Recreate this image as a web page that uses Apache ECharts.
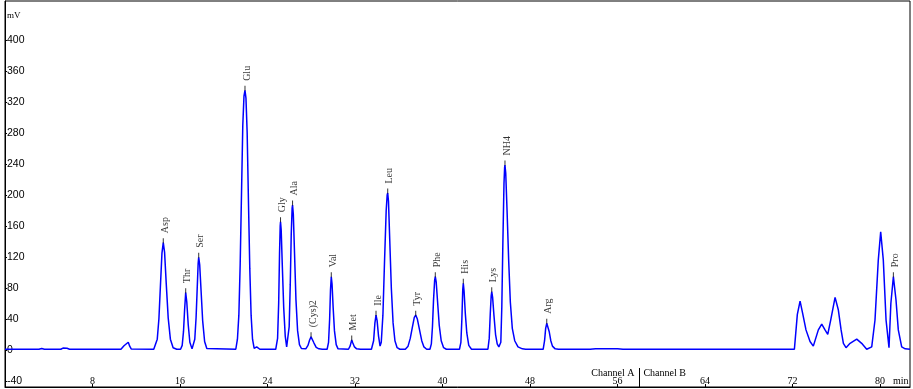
<!DOCTYPE html>
<html>
<head>
<meta charset="utf-8">
<script src="https://cdn.jsdelivr.net/npm/echarts@6/dist/echarts.min.js"></script>
<style>
html,body{margin:0;padding:0;background:#fff;}
#c{width:913px;height:389px;}
</style>
</head>
<body>
<div id="c"></div>
<script>
// Chromatogram trace: [time (min), signal (mV)]
var trace = [
[0,1],[3.1,1],[3.36,2],[3.6,1],[5.1,1],[5.3,2.5],[5.48,1.2],[5.67,2.2],[5.9,1],
[10.6,1],[10.72,3],[10.88,5.5],[11.06,3.5],[11.27,10],[11.4,5],[11.55,1.2],
[13.6,1],[13.72,1.5],[13.92,14],[14.07,40],[14.22,86],[14.35,125],[14.47,138.5],[14.59,126],[14.74,86],[14.92,41.5],[15.12,14],[15.37,3],[15.7,1],
[16.05,1],[16.2,6],[16.32,24],[16.42,52],[16.52,74],[16.62,62],[16.75,33],[16.9,10],[17.1,1.5],
[17.2,2],[17.35,14],[17.47,42],[17.59,86],[17.66,112],[17.71,119.6],[17.8,110],[17.92,78],[18.07,38],[18.25,11],[18.45,2],[18.6,1],
[21.1,1],[21.25,14],[21.38,45],[21.5,110],[21.62,200],[21.74,290],[21.85,328],[21.94,335],[22.03,325],[22.14,280],[22.26,190],[22.38,105],[22.5,45],[22.63,14],[22.78,2],[22.88,1],[23.01,4],[23.15,1.5],[23.3,1],
[24.75,1],[24.84,2],[24.92,15],[25.02,60],[25.1,125],[25.16,160],[25.19,165.5],[25.25,155],[25.35,110],[25.48,55],[25.62,18],[25.75,4],[25.81,2],
[25.86,3],[25.98,30],[26.08,85],[26.17,150],[26.25,183],[26.29,187],[26.36,175],[26.47,125],[26.6,65],[26.75,25],[26.92,7],[27.1,2],
[27.5,1.5],[27.7,6],[27.85,13],[27.98,17],[28.1,15],[28.25,9],[28.45,3.5],[28.7,1.5],[29.0,1],
[29.45,1],[29.58,10],[29.68,40],[29.76,78],[29.83,94.6],[29.9,85],[30.0,55],[30.12,25],[30.28,7],[30.45,1.5],
[31.4,1],[31.55,5],[31.7,13],[31.8,9],[31.95,4],[32.15,1.5],[32.5,1],
[33.5,1],[33.58,1.5],[33.7,12],[33.82,35],[33.92,45],[34.02,38],[34.15,18],[34.29,5],
[34.4,10],[34.55,45],[34.7,115],[34.85,180],[34.94,200],[34.99,202.6],[35.06,192],[35.18,140],[35.32,80],[35.48,35],[35.65,12],[35.85,3],[36.1,1],
[36.6,1],[36.85,5],[37.05,15],[37.25,30],[37.42,42],[37.55,45],[37.7,40],[37.9,26],[38.1,12],[38.3,4],[38.55,1],
[38.85,1],[38.98,8],[39.08,30],[39.18,65],[39.28,90],[39.34,94.6],[39.42,88],[39.55,62],[39.7,32],[39.88,12],[40.1,3],[40.35,1],
[41.55,1],[41.68,10],[41.77,40],[41.85,78],[41.9,86],[41.97,76],[42.08,48],[42.22,22],[42.4,6],[42.65,1],
[44.15,1],[44.27,15],[44.37,48],[44.45,70],[44.5,75.2],[44.58,68],[44.7,45],[44.85,20],[45.0,8],[45.15,4],[45.26,3],
[45.33,10],[45.42,55],[45.52,140],[45.62,215],[45.68,236],[45.71,238.7],[45.78,228],[45.9,180],[46.05,115],[46.2,62],[46.38,28],[46.6,12],[46.9,4],[47.3,1.5],[47.6,1],
[49.2,1],[49.33,12],[49.43,28],[49.53,34.5],[49.62,33],[49.75,24],[49.9,12],[50.05,5],[50.3,1.5],[50.6,1],
[53.5,1],[54,1.8],[56,1.8],[56.5,1],[72.17,1],
[72.32,26],[72.44,46],[72.69,63.2],[72.93,47],[73.23,26],[73.6,11],[73.9,5],[74.36,26],[74.67,33.5],[74.97,26],[75.22,20.2],[75.49,38.7],[75.89,68],[76.19,51.6],[76.44,26],[76.65,8.6],[76.89,3],[77.26,8.6],[77.87,14],[78.32,8.6],[78.78,1],[79.24,4],[79.54,38.7],[79.84,116],[80.06,152.6],[80.3,116],[80.55,38.7],[80.82,3],[80.99,60],[81.22,94.6],[81.46,64.5],[81.67,26],[81.98,4],[82.3,1.5],[82.74,1]
];

// Named peaks
var peakNames = ["Asp","Thr","Ser","Glu","Gly","Ala","(Cys)2","Val","Met","Ile","Leu","Tyr","Phe","His","Lys","NH4","Arg","Pro"];
var peakTimes = [14.47,16.52,17.71,21.94,25.19,26.29,27.98,29.83,31.7,33.92,34.99,37.55,39.34,41.9,44.5,45.71,49.53,81.22];
var peakHeights = [138.5,74,119.6,335,165.5,187,17,94.6,13,45,202.6,45,94.6,86,75.2,238.7,34.5,94.6];

// Axes
var xTicks = [8,16,24,32,40,48,56,64,72,80];
var yTicks = [-40,0,40,80,120,160,200,240,280,320,360,400];
var xMin = 0, xMax = 82.74;
var yMin = -47.7, yMax = 450.3;
var channelSplit = 58.0;

var peakData = peakNames.map(function(n, i){ return {name: n, value: [peakTimes[i], peakHeights[i]]}; });

var chart = echarts.init(document.getElementById('c'), null, {renderer: 'canvas'});
var option = {
  animation: false,
  backgroundColor: '#fff',
  grid: {left: 5, right: 3, top: 1, bottom: 2, show: true, borderColor: '#000', borderWidth: 1, backgroundColor: 'transparent', containLabel: false},
  xAxis: {
    type: 'value', min: xMin, max: xMax,
    axisLine: {show: true, onZero: false, lineStyle: {color: '#000', width: 1}},
    axisTick: {show: true, inside: true, length: 3, customValues: xTicks, lineStyle: {color: '#000'}},
    axisLabel: {show: true, inside: true, margin: 1, customValues: xTicks, color: '#000', fontFamily: 'Liberation Serif', fontSize: 10},
    splitLine: {show: false}
  },
  yAxis: {
    type: 'value', min: yMin, max: yMax,
    axisLine: {show: true, onZero: false, lineStyle: {color: '#000', width: 1}},
    axisTick: {show: true, inside: true, length: 2, customValues: yTicks, lineStyle: {color: '#000'}},
    axisLabel: {show: true, inside: true, margin: 2, customValues: yTicks, color: '#000', fontFamily: 'Liberation Sans', fontSize: 10.5},
    splitLine: {show: false}
  },
  series: [
    {
      type: 'line', data: trace, showSymbol: false, symbol: 'none',
      lineStyle: {color: '#0000ff', width: 1.5}, z: 2
    },
    {
      type: 'scatter', data: peakData, symbol: 'rect', symbolSize: [1, 5], symbolOffset: [0, -2],
      itemStyle: {color: '#000'}, z: 3,
      label: {
        show: true, formatter: '{b}', position: 'top', distance: 5, rotate: 90,
        align: 'left', verticalAlign: 'middle', offset: [0, 2],
        color: '#000', fontFamily: 'Liberation Serif', fontSize: 10
      }
    }
  ]
};
chart.setOption(option);

var xs = chart.convertToPixel({xAxisIndex: 0}, channelSplit);
chart.setOption({
  graphic: [
    {type: 'text', left: 7, top: 11, style: {text: 'mV', fill: '#000', font: '9px "Liberation Serif"'}},
    {type: 'text', left: 893, top: 376, style: {text: 'min', fill: '#000', font: '10px "Liberation Serif"'}},
    {type: 'line', shape: {x1: Math.round(xs) + 0.5, y1: 368, x2: Math.round(xs) + 0.5, y2: 387}, style: {stroke: '#000', lineWidth: 1}},
    {type: 'text', x: xs - 5, y: 368, style: {text: 'Channel A', fill: '#000', font: '10px "Liberation Serif"', textAlign: 'right'}},
    {type: 'text', x: xs + 4, y: 368, style: {text: 'Channel B', fill: '#000', font: '10px "Liberation Serif"', textAlign: 'left'}}
  ]
});
</script>
</body>
</html>
